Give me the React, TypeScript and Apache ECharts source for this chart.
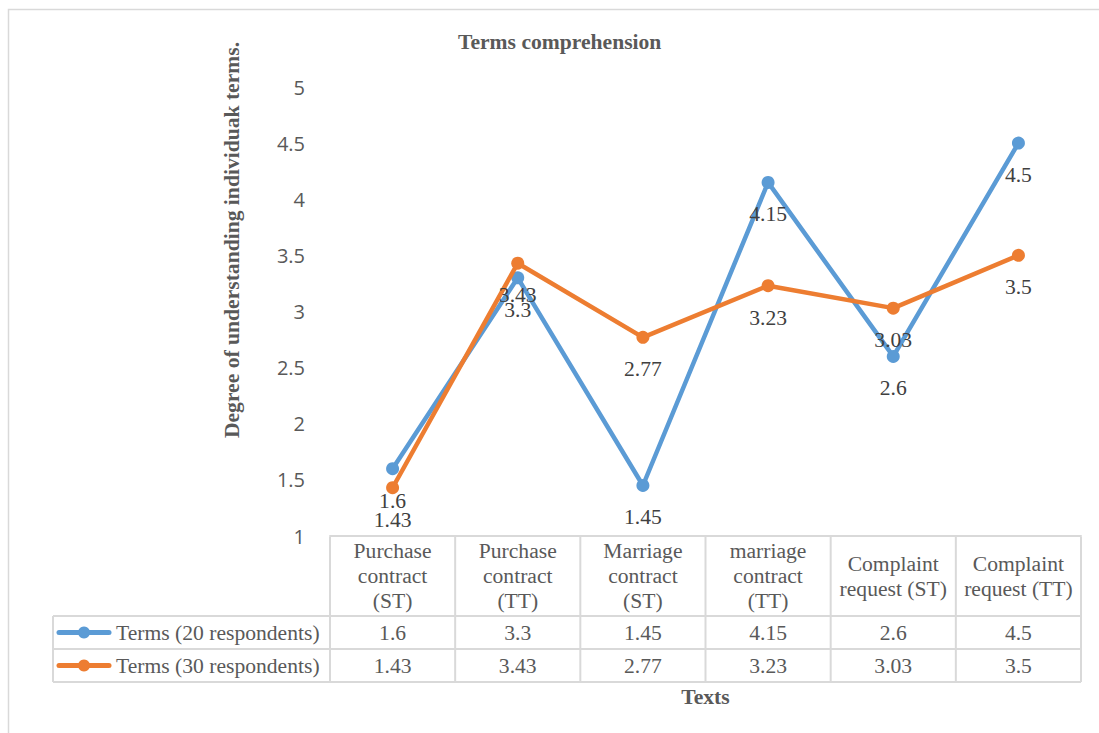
import React, { useEffect, useRef } from "react";
import * as echarts from "echarts";

// Texts compared, in axis order
const categories = [
  "Purchase\ncontract\n(ST)",
  "Purchase\ncontract\n(TT)",
  "Marriage\ncontract\n(ST)",
  "marriage\ncontract\n(TT)",
  "Complaint\nrequest (ST)",
  "Complaint\nrequest (TT)",
];

const seriesNames = ["Terms (20 respondents)", "Terms (30 respondents)"];
const terms20 = [1.6, 3.3, 1.45, 4.15, 2.6, 4.5];
const terms30 = [1.43, 3.43, 2.77, 3.23, 3.03, 3.5];
const seriesValues = [terms20, terms30];
const seriesColors = ["#5B9BD5", "#ED7D31"];

const yMin = 1;
const yMax = 5;
const yStep = 0.5;

const SERIF = "'Liberation Serif', 'Times New Roman', serif";
const SANS = "'Open Sans', 'Liberation Sans', sans-serif";
const TEXT = "#595959";
const LABEL = "#404040";
const GRID_LINE = "#d9d9d9";
const FS = 21.6;

export default function App() {
  const ref = useRef<HTMLDivElement | null>(null);

  useEffect(() => {
    if (!ref.current) return;
    const chart = echarts.init(ref.current, null, { renderer: "svg" });

    chart.setOption({
      animation: false,
      backgroundColor: "#ffffff",
      title: {
        text: "Terms comprehension",
        left: 458,
        top: 31,
        padding: 0,
        textStyle: { fontFamily: SERIF, fontSize: FS, fontWeight: "bold", color: TEXT },
      },
      grid: { left: 330, right: 18, top: 87, bottom: 197, containLabel: false },
      xAxis: {
        type: "category",
        data: categories,
        boundaryGap: true,
        axisLine: { show: true, lineStyle: { color: GRID_LINE, width: 2 } },
        axisTick: { show: false },
        axisLabel: {
          interval: 0,
          margin: 40,
          verticalAlign: "middle",
          fontFamily: SERIF,
          fontSize: FS,
          lineHeight: 25,
          color: TEXT,
        },
        name: "Texts",
        nameLocation: "middle",
        nameGap: 150,
        nameTextStyle: { fontFamily: SERIF, fontSize: FS, fontWeight: "bold", color: TEXT },
      },
      yAxis: {
        type: "value",
        min: yMin,
        max: yMax,
        interval: yStep,
        axisLine: { show: false },
        axisTick: { show: false },
        splitLine: { show: false },
        axisLabel: { margin: 25, fontFamily: SANS, fontSize: 20, color: TEXT },
      },
      series: seriesNames.map((name, i) => ({
        name,
        type: "line",
        data: seriesValues[i],
        symbol: "circle",
        symbolSize: 13,
        lineStyle: { width: 4.5, color: seriesColors[i] },
        itemStyle: { color: seriesColors[i] },
        z: 2 + i,
        label: {
          show: true,
          position: "inside",
          offset: [0, 32],
          fontFamily: SERIF,
          fontSize: FS,
          color: LABEL,
        },
      })),
    });

    // Data table under the plot, aligned with the category bands
    const c0 = chart.convertToPixel({ xAxisIndex: 0 }, categories[0]) as number;
    const c1 = chart.convertToPixel({ xAxisIndex: 0 }, categories[1]) as number;
    const band = c1 - c0;
    const tableLeft = c0 - band / 2;
    const tableRight = tableLeft + band * categories.length;
    const axisY = (chart.convertToPixel({ yAxisIndex: 0 }, yMin) as number) + 1;
    const headerH = 79;
    const rowH = 33;
    const legendLeft = 53;
    const rowTop = axisY + headerH;
    const tableBottom = rowTop + rowH * seriesNames.length;

    const line = (x1: number, y1: number, x2: number, y2: number) => ({
      type: "line",
      silent: true,
      shape: { x1, y1, x2, y2 },
      style: { stroke: GRID_LINE, lineWidth: 2 },
    });

    const graphics: any[] = [];
    // outer chart frame
    graphics.push({
      type: "rect",
      silent: true,
      shape: { x: 8.5, y: 9.5, width: 1200, height: 800 },
      style: { fill: "none", stroke: GRID_LINE, lineWidth: 1.5 },
    });
    // vertical column separators
    for (let i = 0; i <= categories.length; i++) {
      const x = tableLeft + band * i;
      graphics.push(line(x, axisY, x, tableBottom));
    }
    graphics.push(line(legendLeft, rowTop, legendLeft, tableBottom));
    // horizontal row separators
    for (let r = 0; r <= seriesNames.length; r++) {
      const y = rowTop + rowH * r;
      graphics.push(line(legendLeft, y, tableRight, y));
    }
    // rows: legend key + values
    seriesNames.forEach((name, r) => {
      const cy = rowTop + rowH * r + rowH / 2;
      graphics.push({
        type: "line",
        silent: true,
        shape: { x1: 59, y1: cy, x2: 109, y2: cy },
        style: { stroke: seriesColors[r], lineWidth: 5, lineCap: "round" },
      });
      graphics.push({
        type: "circle",
        silent: true,
        shape: { cx: 84, cy, r: 6 },
        style: { fill: seriesColors[r] },
      });
      graphics.push({
        type: "text",
        silent: true,
        x: 116,
        y: cy,
        style: {
          text: name,
          fontFamily: SERIF,
          fontSize: FS,
          fill: TEXT,
          align: "left",
          verticalAlign: "middle",
        },
      });
      seriesValues[r].forEach((v, i) => {
        graphics.push({
          type: "text",
          silent: true,
          x: tableLeft + band * i + band / 2,
          y: cy,
          style: {
            text: String(v),
            fontFamily: SERIF,
            fontSize: FS,
            fill: TEXT,
            align: "center",
            verticalAlign: "middle",
          },
        });
      });
    });
    // vertical value-axis title
    graphics.push({
      type: "text",
      silent: true,
      x: 232,
      y: 240,
      rotation: Math.PI / 2,
      style: {
        text: "Degree of understanding individuak terms.",
        fontFamily: SERIF,
        fontSize: FS,
        fontWeight: "bold",
        fill: TEXT,
        align: "center",
        verticalAlign: "middle",
      },
    });

    chart.setOption({ graphic: graphics });

    return () => chart.dispose();
  }, []);

  return (
    <div
      ref={ref}
      style={{ position: "absolute", left: 0, top: 0, width: 1099, height: 733, background: "#fff" }}
    />
  );
}
